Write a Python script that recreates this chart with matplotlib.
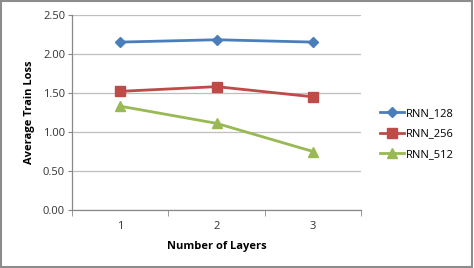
import matplotlib
matplotlib.use("Agg")
import matplotlib.pyplot as plt
from matplotlib.patches import Rectangle

# DATA
layers = [1, 2, 3]
rnn_128 = [2.15, 2.18, 2.15]
rnn_256 = [1.52, 1.58, 1.45]
rnn_512 = [1.33, 1.11, 0.75]
y_ticks = [0.0, 0.5, 1.0, 1.5, 2.0, 2.5]

plt.rcParams['font.family'] = ['Open Sans', 'DejaVu Sans']

fig = plt.figure(figsize=(4.74, 2.68), dpi=100)
ax = fig.add_axes([0.152, 0.216, 0.610, 0.729])

x = list(range(len(layers)))
ax.plot(x, rnn_128, color="#4A7EBB", lw=2, marker="D", ms=5.5, label="RNN_128")
ax.plot(x, rnn_256, color="#BE4B48", lw=2, marker="s", ms=7, label="RNN_256")
ax.plot(x, rnn_512, color="#98B954", lw=2, marker="^", ms=7, label="RNN_512")

ax.set_xlim(-0.5, len(layers) - 0.5)
ax.set_ylim(0, 2.5)
ax.set_yticks(y_ticks)
ax.set_yticklabels(["%.2f" % v for v in y_ticks], fontsize=8, color="#333333")
ax.set_xticks(x)
ax.set_xticklabels([str(v) for v in layers], fontsize=8, color="#333333")
ax.set_xticks([i - 0.5 for i in range(len(layers) + 1)], minor=True)
ax.tick_params(axis='x', which='major', length=0, pad=8)
ax.tick_params(axis='x', which='minor', length=4, color="#888888")
ax.tick_params(axis='y', length=3, color="#888888", pad=2)

ax.grid(axis='y', color="#BFBFBF", lw=0.9)
ax.set_axisbelow(True)
for s in ["top", "right"]:
    ax.spines[s].set_visible(False)
for s in ["left", "bottom"]:
    ax.spines[s].set_color("#888888")
    ax.spines[s].set_linewidth(0.9)

ax.set_xlabel("Number of Layers", fontsize=8, fontweight="bold", labelpad=6)
ax.set_ylabel("Average Train Loss", fontsize=8, fontweight="bold", labelpad=6)

leg = ax.legend(loc="center left", bbox_to_anchor=(1.03, 0.39), frameon=False,
                fontsize=8, handlelength=2.2, labelspacing=0.85, handletextpad=0.1)

fig.patches.append(Rectangle((0.002, 0.004), 0.994, 0.992, transform=fig.transFigure,
                             fill=False, edgecolor="#8C8C8C", lw=1.5))

fig.savefig("out.png", dpi=100)
